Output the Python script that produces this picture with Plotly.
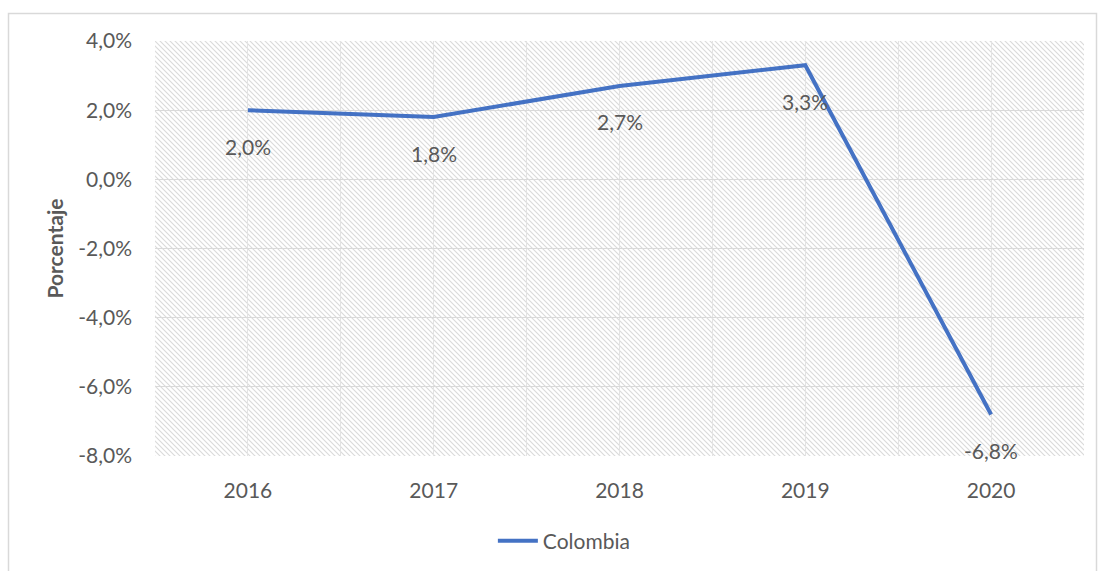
import base64
import plotly.graph_objects as go

# ---- data ----
years = [2016, 2017, 2018, 2019, 2020]
colombia = [2.0, 1.8, 2.7, 3.3, -6.8]
y_ticks = [4, 2, 0, -2, -4, -6, -8]
y_tick_labels = ["4,0%", "2,0%", "0,0%", "-2,0%", "-4,0%", "-6,0%", "-8,0%"]
x_tick_labels = ["2016", "2017", "2018", "2019", "2020"]
series_name = "Colombia"

W, H = 1098, 571
ML, MR, MT, MB = 155, 14, 41, 115
PW, PH = W - ML - MR, H - MT - MB

FONT = "Lato"
TXT = "#595959"
LINE = "#4472C4"

# hatch background pattern as svg image
P = 5
svg = (
    f'<svg xmlns="http://www.w3.org/2000/svg" width="{PW}" height="{PH}" '
    f'viewBox="0 0 {PW} {PH}" preserveAspectRatio="none">'
    f'<defs><pattern id="h" width="{P}" height="{P}" patternUnits="userSpaceOnUse">'
    f'<rect width="{P}" height="{P}" fill="#ffffff"/>'
    f'<path d="M-1,-1 L{P+1},{P+1} M{-P-1},-1 L1,{P+1} M{P-1},-1 L{2*P+1},{P+1}" '
    f'stroke="#dadada" stroke-width="1.1"/></pattern></defs>'
    f'<rect width="{PW}" height="{PH}" fill="url(#h)"/></svg>'
)
svg_uri = "data:image/svg+xml;base64," + base64.b64encode(svg.encode()).decode()

fig = go.Figure()
fig.add_trace(go.Scatter(
    x=years, y=colombia, mode="lines", name=series_name,
    line=dict(color=LINE, width=4), hoverinfo="skip",
))

for xv, yv in zip(years, colombia):
    fig.add_annotation(
        x=xv, y=yv, text=f"{yv:.1f}".replace(".", ",") + "%",
        showarrow=False, yshift=-36, xref="x", yref="y",
        font=dict(family=FONT, size=21, color=TXT),
    )

# chart outer border
def px_x(v):
    return (v - ML) / PW

def px_y(v):
    return 1 - (v - MT) / PH

fig.add_shape(type="rect", xref="paper", yref="paper",
              x0=px_x(8.5), x1=px_x(1096.5), y0=px_y(580), y1=px_y(13.5),
              line=dict(color="#d9d9d9", width=1.5), fillcolor="rgba(0,0,0,0)", layer="below")

fig.add_layout_image(dict(
    source=svg_uri, xref="paper", yref="paper", x=0, y=1, sizex=1, sizey=1,
    xanchor="left", yanchor="top", sizing="stretch", layer="below",
))

fig.update_layout(
    width=W, height=H,
    margin=dict(l=ML, r=MR, t=MT, b=MB),
    paper_bgcolor="white", plot_bgcolor="rgba(0,0,0,0)",
    font=dict(family=FONT, size=21, color=TXT),
    showlegend=True,
    legend=dict(orientation="h", xref="container", yref="container",
                x=0.514, xanchor="center", y=1 - 541 / H, yanchor="middle",
                font=dict(family=FONT, size=21, color=TXT), itemwidth=40,
                bgcolor="rgba(0,0,0,0)"),
)
fig.update_xaxes(
    range=[2015.5, 2020.5], tickvals=years, ticktext=x_tick_labels,
    showgrid=True, gridcolor="#e3e3e3", gridwidth=1,
    minor=dict(dtick=1, tick0=2015.5, showgrid=True, gridcolor="#e3e3e3", gridwidth=1),
    zeroline=False, showline=False, ticks="", ticklabelstandoff=20,
    tickfont=dict(family=FONT, size=21, color=TXT), fixedrange=True,
)
fig.update_yaxes(
    range=[-8, 4], tickvals=y_ticks, ticktext=y_tick_labels,
    showgrid=True, gridcolor="#d9d9d9", gridwidth=1,
    zeroline=False, showline=False, ticks="", ticklabelstandoff=22,
    tickfont=dict(family=FONT, size=21, color=TXT),
    title=dict(text="<b>Porcentaje</b>", standoff=8,
               font=dict(family=FONT, size=21, color=TXT)),
    fixedrange=True,
)

fig.write_html("out.html")
